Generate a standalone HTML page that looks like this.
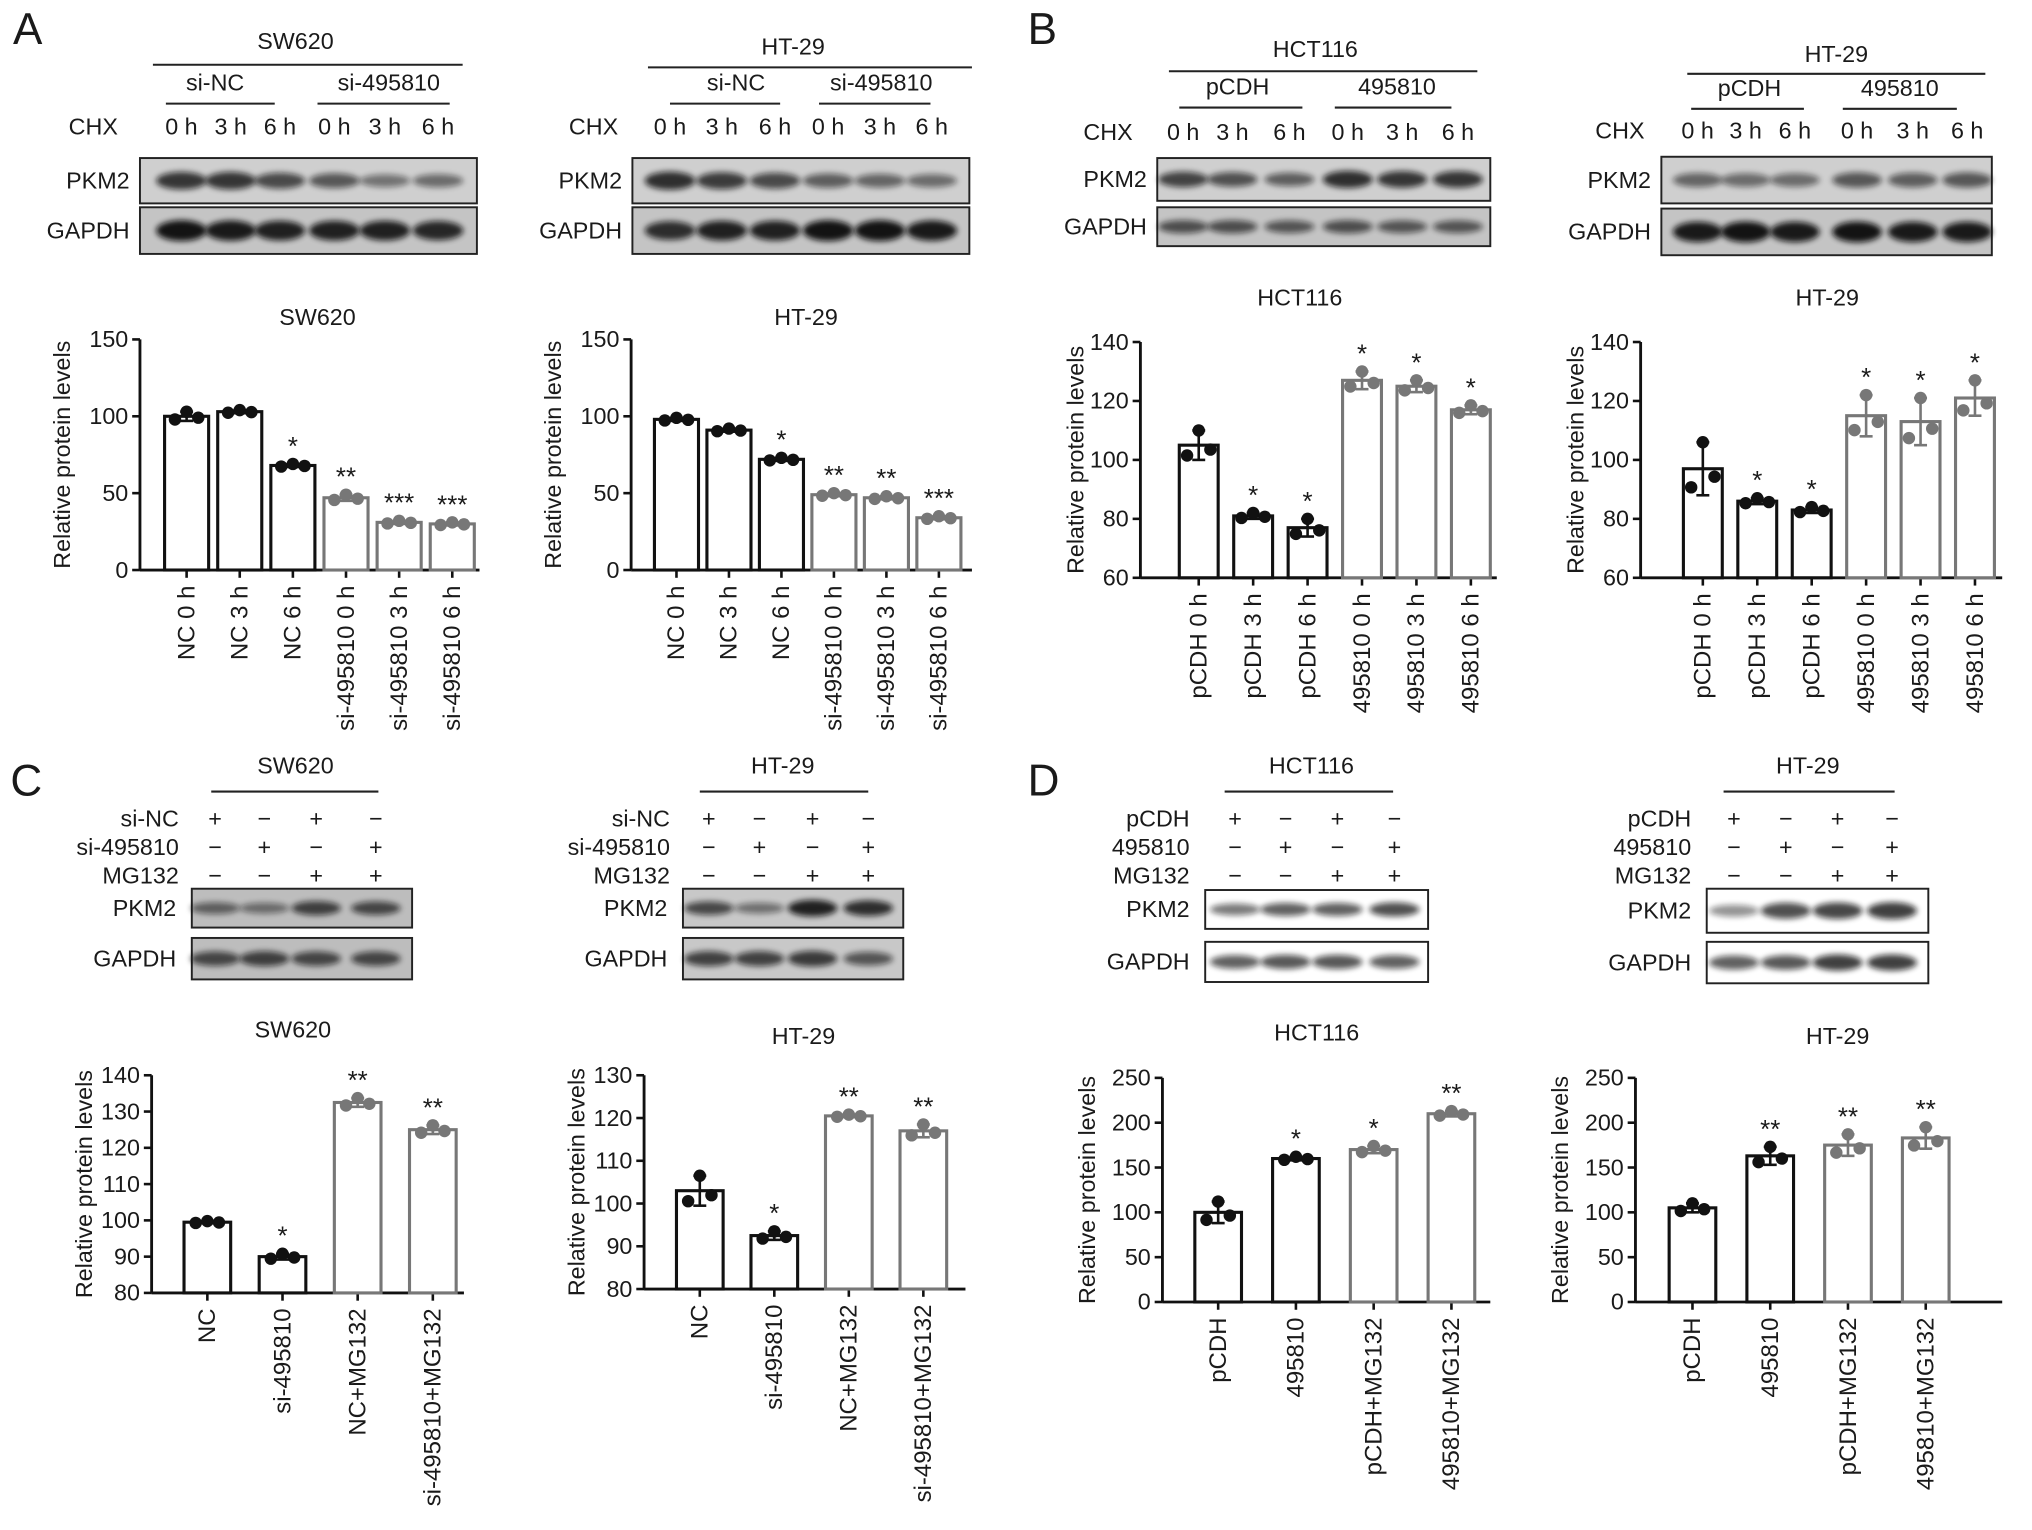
<!DOCTYPE html>
<html><head><meta charset="utf-8">
<style>html,body{margin:0;padding:0;background:#fff}svg{display:block}text{font-family:"Liberation Sans",sans-serif;fill:#1a1a1a}</style>
</head><body>
<svg id="fig" width="2032" height="1530" viewBox="0 0 1568 1181" preserveAspectRatio="none" xmlns="http://www.w3.org/2000/svg">
<defs><filter id="blur" x="-20%" y="-50%" width="140%" height="200%"><feGaussianBlur stdDeviation="2.2"/></filter></defs>
<g id="root"></g>
</svg>
<script>
// ---- chart data ----
const aLeftCats = ["NC 0 h","NC 3 h","NC 6 h","si-495810 0 h","si-495810 3 h","si-495810 6 h"];
const aLeftVals = [100,103,68,47,31,30];
const aLeftErr = [3,1,1,2,1,1];
const aLeftSig = ["","","*","**","***","***"];
const aRightVals = [98,91,72,49,47,34];
const aRightErr = [1,1,1,1,1,1];
const aRightSig = ["","","*","**","**","***"];
const aTicks = [0,50,100,150];

const bCats = ["pCDH 0 h","pCDH 3 h","pCDH 6 h","495810 0 h","495810 3 h","495810 6 h"];
const bLeftVals = [105,81,77,127,125,117];
const bLeftErr = [5,1,3,3,2,1.5];
const bLeftSig = ["","*","*","*","*","*"];
const bRightVals = [97,86,83,115,113,121];
const bRightErr = [9,1,1,7,8,6];
const bRightSig = ["","*","*","*","*","*"];
const bTicks = [60,80,100,120,140];

const cCats = ["NC","si-495810","NC+MG132","si-495810+MG132"];
const cLeftVals = [99.5,90,132.5,125];
const cLeftErr = [0.3,0.8,1.2,1.2];
const cLeftSig = ["","*","**","**"];
const cLeftTicks = [80,90,100,110,120,130,140];
const cRightVals = [103,92.5,120.5,117];
const cRightErr = [3.5,1,0.3,1.5];
const cRightSig = ["","*","**","**"];
const cRightTicks = [80,90,100,110,120,130];

const dCats = ["pCDH","495810","pCDH+MG132","495810+MG132"];
const dLeftVals = [100,160,170,210];
const dLeftErr = [12,2,4,3];
const dLeftSig = ["","*","*","**"];
const dRightVals = [105,163,175,183];
const dRightErr = [5,10,12,12];
const dRightSig = ["","**","**","**"];
const dTicks = [0,50,100,150,200,250];

const NS="http://www.w3.org/2000/svg";
const root=document.getElementById('root');
function el(tag,attrs,parent,txt){const e=document.createElementNS(NS,tag);for(const k in attrs)e.setAttribute(k,attrs[k]);if(txt!==undefined)e.textContent=txt;(parent||root).appendChild(e);return e;}

function chart(name,cfg,cats,vals,errs,sigs,ticks){
  const g=el('g',{});
  
  
  const min=ticks[0],max=ticks[ticks.length-1];
  const y=v=>cfg.y0-(v-min)/(max-min)*(cfg.y0-cfg.y1);
  const x=i=>cfg.x0+i*cfg.step;
  const t=el('text',{x:cfg.tx,y:cfg.ty,'font-size':18,'text-anchor':'middle'},g,cfg.title);
  
  
  const yl=el('text',{x:0,y:0,'font-size':18,'text-anchor':'middle',transform:`translate(${cfg.ax-cfg.ylOff},${(cfg.y0+cfg.y1)/2}) rotate(-90)`},g,'Relative protein levels');
  
  
  el('line',{x1:cfg.ax,y1:cfg.y1,x2:cfg.ax,y2:cfg.y0,stroke:'#111','stroke-width':2.2},g);
  el('line',{x1:cfg.ax,y1:cfg.y0,x2:cfg.xend,y2:cfg.y0,stroke:'#111','stroke-width':2.2},g);
  ticks.forEach(tv=>{
    el('line',{x1:cfg.ax-6,y1:y(tv),x2:cfg.ax,y2:y(tv),stroke:'#111','stroke-width':2},g);
    const tl=el('text',{x:cfg.ax-9,y:y(tv)+6,'font-size':18,'text-anchor':'end'},g,tv);
    
    
  });
  cats.forEach((c,i)=>{
    const cx=x(i),v=vals[i],e=errs[i];
    const col=i<cfg.nBlack?'#111':'#777';
    el('line',{x1:cx,y1:cfg.y0,x2:cx,y2:cfg.y0+6,stroke:'#111','stroke-width':2},g);
    const b=el('rect',{x:cx-cfg.bw/2,y:y(v),width:cfg.bw,height:cfg.y0-y(v),fill:'#fff',stroke:col,'stroke-width':2.4},g);
    
    
    el('line',{x1:cx,y1:y(v-e),x2:cx,y2:y(v+e),stroke:col,'stroke-width':2},g);
    el('line',{x1:cx-5,y1:y(v+e),x2:cx+5,y2:y(v+e),stroke:col,'stroke-width':2},g);
    el('line',{x1:cx-5,y1:y(v-e),x2:cx+5,y2:y(v-e),stroke:col,'stroke-width':2},g);
    [[-9,-0.7],[0,1],[9,-0.3]].forEach(d=>{
      const dt=el('circle',{cx:cx+d[0],cy:y(v+e*d[1]),r:4.8,fill:col},g);
      
      
    });
    if(sigs[i]){
      const s=el('text',{x:cx,y:y(v+e)-7,'font-size':20,'text-anchor':'middle'},g,sigs[i]);
      
      
    }
    const xl=el('text',{x:0,y:0,'font-size':18.5,'text-anchor':'end',transform:`translate(${cx+6},${cfg.y0+12}) rotate(-90)`},g,c);
    
    
  });
}

chart('chart-a-sw620',{title:'SW620',tx:245,ty:251,ax:108,y0:440,y1:262,x0:144,step:41,bw:34,xend:370,nBlack:3,ylOff:54},aLeftCats,aLeftVals,aLeftErr,aLeftSig,aTicks);
chart('chart-a-ht29',{title:'HT-29',tx:622,ty:251,ax:487,y0:440,y1:262,x0:522,step:40.5,bw:34,xend:750,nBlack:3,ylOff:54},aLeftCats,aRightVals,aRightErr,aRightSig,aTicks);
chart('chart-b-hct116',{title:'HCT116',tx:1003,ty:236,ax:880,y0:446,y1:264,x0:925,step:42,bw:30,xend:1155,nBlack:3,ylOff:44},bCats,bLeftVals,bLeftErr,bLeftSig,bTicks);
chart('chart-b-ht29',{title:'HT-29',tx:1410,ty:236,ax:1266,y0:446,y1:264,x0:1314,step:42,bw:30,xend:1545,nBlack:3,ylOff:44},bCats,bRightVals,bRightErr,bRightSig,bTicks);
chart('chart-c-sw620',{title:'SW620',tx:226,ty:801,ax:117,y0:998,y1:830,x0:160,step:58,bw:36,xend:358,nBlack:2,ylOff:46},cCats,cLeftVals,cLeftErr,cLeftSig,cLeftTicks);
chart('chart-c-ht29',{title:'HT-29',tx:620,ty:806,ax:497,y0:995,y1:830,x0:540,step:57.5,bw:36,xend:745,nBlack:2,ylOff:46},cCats,cRightVals,cRightErr,cRightSig,cRightTicks);
chart('chart-d-hct116',{title:'HCT116',tx:1016,ty:803,ax:897,y0:1005,y1:832,x0:940,step:60,bw:36,xend:1150,nBlack:2,ylOff:52},dCats,dLeftVals,dLeftErr,dLeftSig,dTicks);
chart('chart-d-ht29',{title:'HT-29',tx:1418,ty:806,ax:1262,y0:1005,y1:832,x0:1306,step:60,bw:36,xend:1545,nBlack:2,ylOff:52},dCats,dRightVals,dRightErr,dRightSig,dTicks);

// ---- blots ----
function txt(x,y,s,size,anchor,name){const t=el('text',{x:x,y:y,'font-size':size,'text-anchor':anchor||'middle'},root,s);return t;}
function line(x1,x2,y){el('line',{x1:x1,y1:y,x2:x2,y2:y,stroke:'#222','stroke-width':1.6});}
function box(x1,x2,y1,y2,lanes,ints,bg,name){
  const r=el('rect',{x:x1,y:y1,width:x2-x1,height:y2-y1,fill:bg,stroke:'#222','stroke-width':1.5});
  
  
  const w=(x2-x1)/lanes.length;
  lanes.forEach((cx,i)=>{
    const a=ints[i];
    el('ellipse',{cx:cx,cy:(y1+y2)/2,rx:w*0.45,ry:(y2-y1)*0.11+a*(y2-y1)*0.12,fill:'#111',opacity:Math.min(1,0.3+a*0.7),filter:'url(#blur)'});
  });
}
function letter(x,y,s){txt(x,y,s,34,'start','panel-label-'+s.toLowerCase());}
letter(10,34,'A');letter(793,34,'B');letter(8,614,'C');letter(793,614,'D');

function chxBlot(cfg){
  txt(cfg.tx,cfg.ty,cfg.title,18,'middle','cell-line-label');line(cfg.l1[0],cfg.l1[1],cfg.ly);
  txt(cfg.g1x,cfg.gy,cfg.g1,18,'middle','group-label');line(cfg.g1l[0],cfg.g1l[1],cfg.gy+10);
  txt(cfg.g2x,cfg.gy,cfg.g2,18,'middle','group-label');line(cfg.g2l[0],cfg.g2l[1],cfg.gy+10);
  txt(cfg.chx,cfg.ty2,'CHX',18,'middle','chx-label');
  cfg.lanes.forEach((lx,i)=>txt(lx,cfg.ty2,['0 h','3 h','6 h','0 h','3 h','6 h'][i],18,'middle','time-label'));
  txt(cfg.bx[0]-8,cfg.p[0]+(cfg.p[1]-cfg.p[0])/2+6,'PKM2',18,'end','pkm2-label');
  txt(cfg.bx[0]-8,cfg.g[0]+(cfg.g[1]-cfg.g[0])/2+6,'GAPDH',18,'end','gapdh-label');
  box(cfg.bx[0],cfg.bx[1],cfg.p[0],cfg.p[1],cfg.lanes,cfg.pi,'#cfcfcf','pkm2-blot');
  box(cfg.bx[0],cfg.bx[1],cfg.g[0],cfg.g[1],cfg.lanes,cfg.gi,'#c4c4c4','gapdh-blot');
}
chxBlot({title:'SW620',tx:228,ty:38,l1:[118,357],ly:50,g1:'si-NC',g1x:166,g2:'si-495810',g2x:300,gy:70,g1l:[128,212],g2l:[245,347],chx:72,ty2:104,lanes:[140,178,216,258,297,338],bx:[108,368],p:[122,157],g:[160,196],pi:[0.7,0.7,0.55,0.45,0.25,0.3],gi:[0.95,0.9,0.85,0.85,0.85,0.8]});
chxBlot({title:'HT-29',tx:612,ty:42,l1:[500,750],ly:52,g1:'si-NC',g1x:568,g2:'si-495810',g2x:680,gy:70,g1l:[517,602],g2l:[632,718],chx:458,ty2:104,lanes:[517,557,598,639,679,719],bx:[488,748],p:[122,157],g:[160,196],pi:[0.75,0.65,0.55,0.4,0.35,0.3],gi:[0.75,0.85,0.85,0.95,0.95,0.9]});
chxBlot({title:'HCT116',tx:1015,ty:44,l1:[902,1140],ly:55,g1:'pCDH',g1x:955,g2:'495810',g2x:1078,gy:73,g1l:[910,1005],g2l:[1030,1120],chx:855,ty2:108,lanes:[913,951,995,1040,1082,1125],bx:[893,1150],p:[122,155],g:[160,190],pi:[0.6,0.5,0.4,0.75,0.7,0.7],gi:[0.5,0.5,0.45,0.5,0.45,0.45]});
chxBlot({title:'HT-29',tx:1417,ty:48,l1:[1302,1532],ly:57,g1:'pCDH',g1x:1350,g2:'495810',g2x:1466,gy:74,g1l:[1305,1392],g2l:[1422,1510],chx:1250,ty2:107,lanes:[1310,1347,1385,1433,1476,1518],bx:[1282,1537],p:[121,157],g:[161,197],pi:[0.35,0.3,0.3,0.45,0.4,0.45],gi:[0.9,0.95,0.9,0.95,0.9,0.9]});

function mgBlot(cfg){
  txt(cfg.tx,597,cfg.title,18,'middle','cell-line-label');line(cfg.l1[0],cfg.l1[1],611);
  const signs=[['+','−','+','−'],['−','+','−','+'],['−','−','+','+']];
  cfg.rows.forEach((r,ri)=>{
    txt(cfg.rx,638+ri*22,r,18,'end','treatment-label');
    cfg.lanes.forEach((lx,i)=>txt(lx,638+ri*22,signs[ri][i],18,'middle','treatment-sign'));
  });
  txt(cfg.bx[0]-12,cfg.p[0]+(cfg.p[1]-cfg.p[0])/2+6,'PKM2',18,'end','pkm2-label');
  txt(cfg.bx[0]-12,cfg.g[0]+(cfg.g[1]-cfg.g[0])/2+6,'GAPDH',18,'end','gapdh-label');
  box(cfg.bx[0],cfg.bx[1],cfg.p[0],cfg.p[1],cfg.lanes,cfg.pi,cfg.bg,'pkm2-blot');
  box(cfg.bx[0],cfg.bx[1],cfg.g[0],cfg.g[1],cfg.lanes,cfg.gi,cfg.bg,'gapdh-blot');
}
mgBlot({title:'SW620',tx:228,l1:[163,292],rows:['si-NC','si-495810','MG132'],rx:138,lanes:[166,204,244,290],bx:[148,318],p:[686,716],g:[724,756],pi:[0.35,0.25,0.6,0.55],gi:[0.55,0.6,0.55,0.55],bg:'#bdbdbd'});
mgBlot({title:'HT-29',tx:604,l1:[540,670],rows:['si-NC','si-495810','MG132'],rx:517,lanes:[547,586,627,670],bx:[527,697],p:[686,716],g:[724,756],pi:[0.55,0.25,0.85,0.75],gi:[0.6,0.6,0.65,0.45],bg:'#c8c8c8'});
mgBlot({title:'HCT116',tx:1012,l1:[945,1075],rows:['pCDH','495810','MG132'],rx:918,lanes:[953,992,1032,1076],bx:[930,1102],p:[687,717],g:[727,758],pi:[0.35,0.5,0.5,0.6],gi:[0.5,0.55,0.55,0.5],bg:'#fff'});
mgBlot({title:'HT-29',tx:1395,l1:[1330,1462],rows:['pCDH','495810','MG132'],rx:1305,lanes:[1338,1378,1418,1460],bx:[1317,1488],p:[686,720],g:[727,759],pi:[0.2,0.6,0.65,0.7],gi:[0.5,0.55,0.7,0.7],bg:'#fff'});
</script>
</body></html>
